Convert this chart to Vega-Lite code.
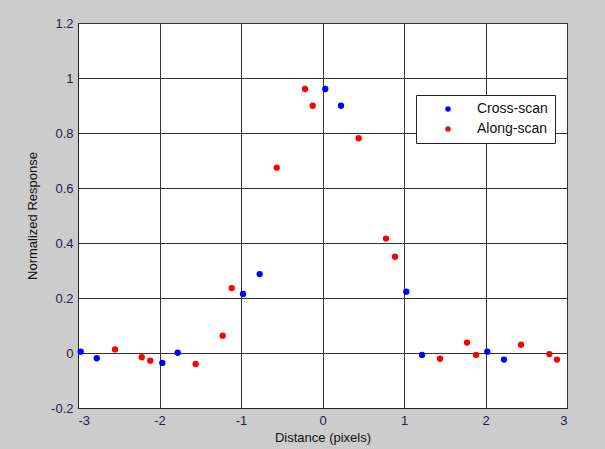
{
  "$schema": "https://vega.github.io/schema/vega-lite/v6.json",
  "autosize": "none",
  "width": 489,
  "height": 385,
  "padding": {"left": 78, "top": 23, "right": 38, "bottom": 41},
  "background": "#cccccc",
  "config": {
    "view": {"fill": "white", "stroke": "#222222", "strokeWidth": 1},
    "font": "Liberation Sans",
    "axis": {
      "gridColor": "#333333", "gridOpacity": 1, "gridWidth": 1,
      "domainColor": "#222222", "ticks": false,
      "labelFont": "Liberation Sans", "labelFontSize": 13, "labelColor": "#222244",
      "titleFont": "Liberation Sans", "titleFontSize": 13, "titleFontWeight": "normal", "titleColor": "#111111"
    }
  },
  "data": {
    "values": [
      {"scan": "Cross-scan", "distance": -2.967, "response": 0.005},
      {"scan": "Cross-scan", "distance": -2.77, "response": -0.019},
      {"scan": "Cross-scan", "distance": -1.966, "response": -0.036},
      {"scan": "Cross-scan", "distance": -1.777, "response": 0.001},
      {"scan": "Cross-scan", "distance": -0.975, "response": 0.215},
      {"scan": "Cross-scan", "distance": -0.771, "response": 0.287},
      {"scan": "Cross-scan", "distance": 0.034, "response": 0.96},
      {"scan": "Cross-scan", "distance": 0.227, "response": 0.899},
      {"scan": "Cross-scan", "distance": 1.028, "response": 0.223},
      {"scan": "Cross-scan", "distance": 1.221, "response": -0.007},
      {"scan": "Cross-scan", "distance": 2.022, "response": 0.005},
      {"scan": "Cross-scan", "distance": 2.227, "response": -0.024},
      {"scan": "Along-scan", "distance": -2.546, "response": 0.013},
      {"scan": "Along-scan", "distance": -2.218, "response": -0.015},
      {"scan": "Along-scan", "distance": -2.113, "response": -0.028},
      {"scan": "Along-scan", "distance": -1.556, "response": -0.04},
      {"scan": "Along-scan", "distance": -1.225, "response": 0.063},
      {"scan": "Along-scan", "distance": -1.114, "response": 0.236},
      {"scan": "Along-scan", "distance": -0.562, "response": 0.674},
      {"scan": "Along-scan", "distance": -0.215, "response": 0.96},
      {"scan": "Along-scan", "distance": -0.12, "response": 0.899},
      {"scan": "Along-scan", "distance": 0.444, "response": 0.781},
      {"scan": "Along-scan", "distance": 0.779, "response": 0.416},
      {"scan": "Along-scan", "distance": 0.89, "response": 0.35},
      {"scan": "Along-scan", "distance": 1.442, "response": -0.021},
      {"scan": "Along-scan", "distance": 1.773, "response": 0.038},
      {"scan": "Along-scan", "distance": 1.883, "response": -0.007},
      {"scan": "Along-scan", "distance": 2.436, "response": 0.03},
      {"scan": "Along-scan", "distance": 2.783, "response": -0.004},
      {"scan": "Along-scan", "distance": 2.877, "response": -0.024}
    ]
  },
  "mark": {"type": "point", "filled": true, "opacity": 1, "size": 40, "shape": "circle"},
  "encoding": {
    "x": {
      "field": "distance", "type": "quantitative",
      "scale": {"domain": [-3, 3], "nice": false, "zero": false},
      "axis": {"title": "Distance (pixels)", "values": [-3, -2, -1, 0, 1, 2, 3], "labelPadding": 6, "titlePadding": 4,
               "labelExpr": "replace(format(datum.value, '~g'), '\u2212', '-')"}
    },
    "y": {
      "field": "response", "type": "quantitative",
      "scale": {"domain": [-0.2, 1.2], "nice": false, "zero": false},
      "axis": {"title": "Normalized Response", "values": [-0.2, 0, 0.2, 0.4, 0.6, 0.8, 1, 1.2], "labelPadding": 5, "titlePadding": 11,
               "labelExpr": "replace(format(datum.value, '~g'), '\u2212', '-')"}
    },
    "color": {
      "field": "scan", "type": "nominal",
      "scale": {"domain": ["Cross-scan", "Along-scan"], "range": ["#0000ff", "#ff0000"]},
      "legend": {
        "title": null, "orient": "none", "legendX": 338, "legendY": 72,
        "fillColor": "white", "strokeColor": "#222222", "padding": 7,
        "symbolType": "circle", "symbolSize": 30, "symbolOffset": 18, "labelOffset": 22,
        "labelFont": "Liberation Sans", "labelFontSize": 14, "labelColor": "#111111", "rowPadding": 6
      }
    }
  }
}
